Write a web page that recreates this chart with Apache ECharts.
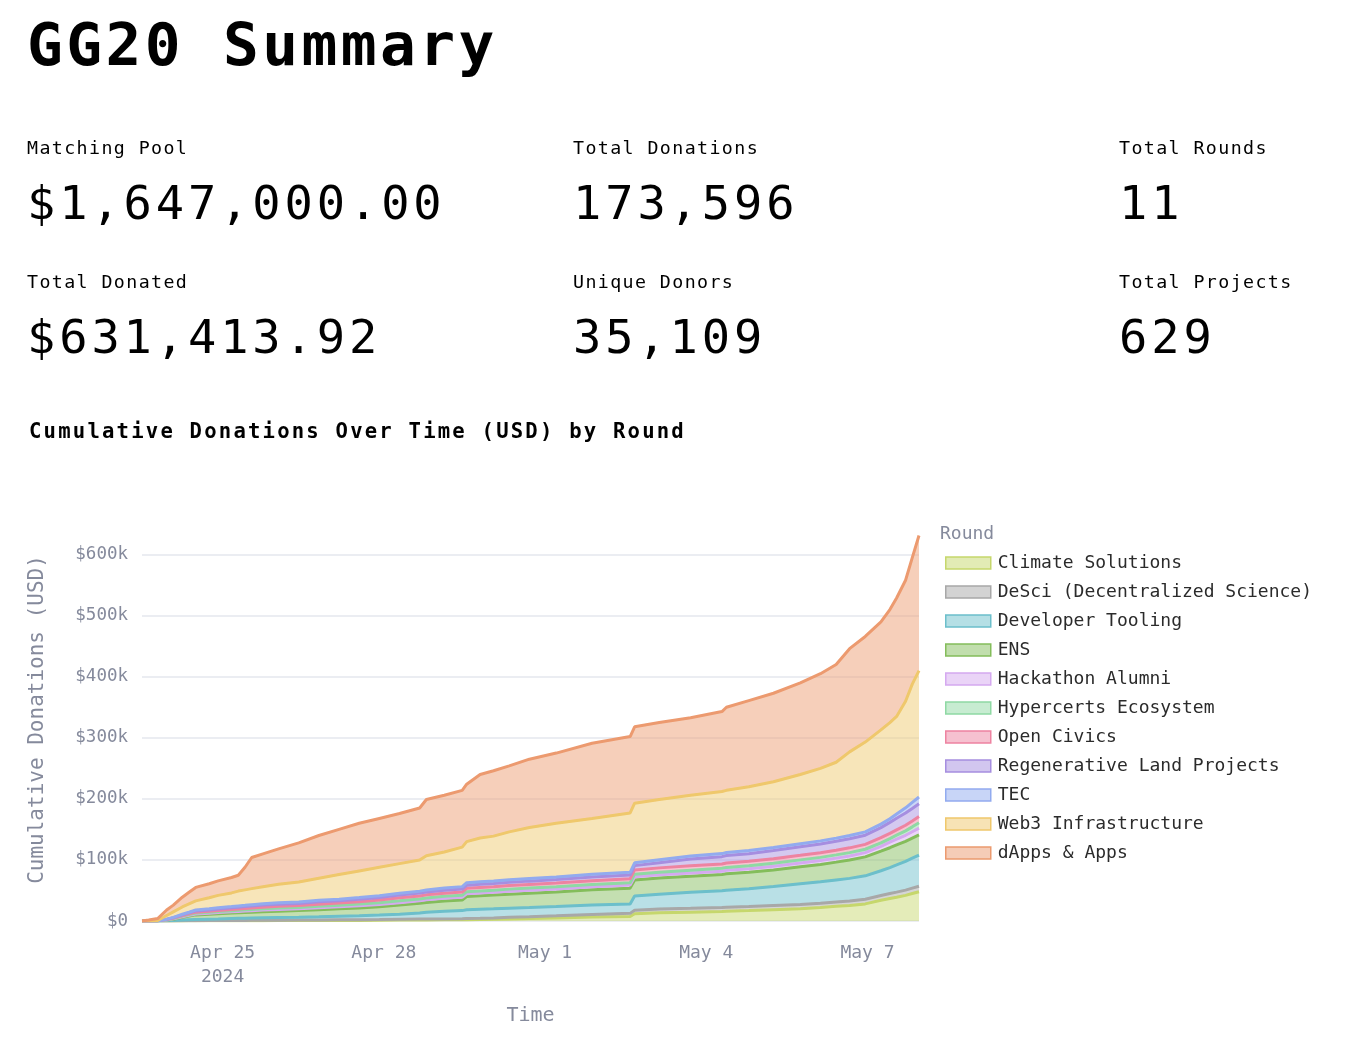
<!DOCTYPE html>
<html>
<head>
<meta charset="utf-8">
<title>GG20 Summary</title>
<script src="https://cdn.jsdelivr.net/npm/echarts@6/dist/echarts.min.js"></script>
<style>
    html, body { margin: 0; padding: 0; background: #fff; }
    body { width: 1349px; height: 1056px; position: relative; overflow: hidden; font-family: 'DejaVu Sans Mono', monospace; color: #000; }
    #charts { position: absolute; left: 0; top: 0; width: 1349px; height: 1056px; }
    .txt { position: absolute; white-space: nowrap; line-height: 1; z-index: 2; }
    .page-title { left: 27px; top: 15px; font-size: 59.5px; font-weight: bold; letter-spacing: 3.4px; }
    .stat-label { font-size: 18.3px; letter-spacing: 1.4px; }
    .stat-value { font-size: 47px; letter-spacing: 3.9px; }
    .chart-title { left: 29px; top: 421px; font-size: 20.6px; font-weight: bold; letter-spacing: 2.2px; }
</style>
</head>
<body>
<div id="charts"></div>

<div class="txt page-title">GG20 Summary</div>

<div class="txt stat-label" style="left:27px;top:139px;">Matching Pool</div>
<div class="txt stat-value" style="left:27px;top:179px;">$1,647,000.00</div>
<div class="txt stat-label" style="left:573px;top:139px;">Total Donations</div>
<div class="txt stat-value" style="left:573px;top:179px;">173,596</div>
<div class="txt stat-label" style="left:1119px;top:139px;">Total Rounds</div>
<div class="txt stat-value" style="left:1119px;top:179px;">11</div>

<div class="txt stat-label" style="left:27px;top:273px;">Total Donated</div>
<div class="txt stat-value" style="left:27px;top:313px;">$631,413.92</div>
<div class="txt stat-label" style="left:573px;top:273px;">Unique Donors</div>
<div class="txt stat-value" style="left:573px;top:313px;">35,109</div>
<div class="txt stat-label" style="left:1119px;top:273px;">Total Projects</div>
<div class="txt stat-value" style="left:1119px;top:313px;">629</div>

<div class="txt chart-title">Cumulative Donations Over Time (USD) by Round</div>

<script>
// sample times (UTC) and cumulative donations per round, in thousands of USD
var times = [
    '2024-04-23 12:00', '2024-04-23 15:00', '2024-04-23 19:00', '2024-04-23 23:00',
    '2024-04-24 02:00', '2024-04-24 06:00', '2024-04-24 09:00', '2024-04-24 12:00', '2024-04-24 18:00', '2024-04-24 22:00',
    '2024-04-25 04:00', '2024-04-25 07:00', '2024-04-25 10:00', '2024-04-25 13:00', '2024-04-25 18:00',
    '2024-04-26 01:00', '2024-04-26 10:00', '2024-04-26 19:00',
    '2024-04-27 04:00', '2024-04-27 13:00', '2024-04-27 22:00',
    '2024-04-28 07:00', '2024-04-28 16:00', '2024-04-28 19:00',
    '2024-04-29 03:00', '2024-04-29 11:00', '2024-04-29 13:00', '2024-04-29 19:00',
    '2024-04-30 01:00', '2024-04-30 08:00', '2024-04-30 17:00',
    '2024-05-01 05:00', '2024-05-01 21:00',
    '2024-05-02 14:00', '2024-05-02 16:00',
    '2024-05-03 03:00', '2024-05-03 17:00',
    '2024-05-04 07:00', '2024-05-04 09:00', '2024-05-04 19:00',
    '2024-05-05 06:00', '2024-05-05 18:00',
    '2024-05-06 03:00', '2024-05-06 10:00', '2024-05-06 16:00', '2024-05-06 23:00',
    '2024-05-07 06:00', '2024-05-07 10:00', '2024-05-07 13:00', '2024-05-07 17:00', '2024-05-07 20:00', '2024-05-07 23:00'
];

var climateSolutions = [0, 0, 0, 0.05, 0.1, 0.2, 0.25, 0.3, 0.35, 0.4,
    0.45, 0.5, 0.5, 0.55, 0.6, 0.65, 0.7, 0.8, 0.9, 1.0,
    1.2, 1.5, 1.7, 1.8, 1.9, 2.0, 2.2, 2.5, 2.8, 3.3,
    4.0, 5.0, 6.5, 7.5, 12, 13.5, 14.5, 15.5, 16, 17,
    18.5, 20, 22, 24, 25.5, 28, 34, 37, 39, 42,
    45, 48];
var desci = [0, 0, 0, 0.05, 0.1, 0.2, 0.25, 0.3, 0.35, 0.4,
    0.45, 0.5, 0.5, 0.55, 0.6, 0.7, 0.8, 0.9, 1.0, 1.1,
    1.2, 1.3, 1.4, 1.4, 1.5, 1.5, 1.8, 2.0, 2.3, 2.7,
    3.0, 3.5, 4.3, 5.0, 5.7, 6.0, 6.2, 6.5, 6.7, 6.8,
    6.9, 7.0, 7.1, 7.2, 7.3, 7.5, 7.8, 8.0, 8.3, 8.6,
    8.8, 9.0];
var developerTooling = [0, 0, 0.1, 0.4, 0.8, 1.4, 1.7, 1.9, 2.3, 2.5,
    3.1, 3.3, 3.5, 3.7, 4.0, 4.3, 4.7, 5.3, 6.0, 6.5,
    7.3, 8.2, 10.0, 11.0, 12.5, 13.5, 14.5, 14.7, 14.8, 14.9,
    15.0, 15.1, 15.3, 15.5, 23.3, 24.5, 26.2, 27.5, 27.8, 29.0,
    31, 34, 35, 36, 37, 38.5, 40.5, 42.5, 44.5, 47,
    49, 51];
var ens = [0, 0, 0.1, 1.0, 2.0, 4.2, 5.8, 7.5, 8.0, 8.7,
    9.0, 9.2, 9.5, 9.7, 10.1, 10.5, 10.8, 11.5, 12.0, 12.8,
    13.7, 15.0, 15.8, 16.2, 17.0, 17.5, 21.5, 22.0, 22.5, 23.0,
    23.5, 24.0, 25.0, 25.8, 26.2, 26.3, 26.4, 26.5, 26.8, 27.0,
    27.3, 27.8, 28.5, 29.2, 30.0, 31.0, 32.0, 32.5, 32.7, 32.8,
    32.9, 33.0];
var hackathonAlumni = [0, 0, 0.05, 0.3, 0.6, 1.0, 1.3, 1.5, 1.7, 1.9,
    2.1, 2.2, 2.3, 2.4, 2.6, 2.8, 3.0, 3.2, 3.3, 3.5,
    3.7, 4.0, 4.1, 4.2, 4.3, 4.4, 4.5, 4.6, 4.6, 4.7,
    4.8, 4.9, 5.0, 5.1, 5.3, 5.4, 5.5, 5.6, 5.7, 5.8,
    6.0, 6.2, 6.4, 6.6, 6.8, 7.0, 8.0, 9.0, 9.5, 10.0,
    10.5, 11.0];
var hypercerts = [0, 0, 0.05, 0.3, 0.6, 1.0, 1.3, 1.5, 1.6, 1.7,
    1.8, 1.9, 2.0, 2.1, 2.2, 2.3, 2.3, 2.5, 2.6, 2.8,
    2.9, 3.0, 3.1, 3.1, 3.2, 3.2, 3.5, 3.5, 3.5, 3.6,
    3.6, 3.7, 3.7, 3.8, 4.2, 4.3, 4.5, 4.7, 4.8, 4.9,
    5.0, 5.1, 5.2, 5.3, 5.4, 5.5, 5.8, 6.0, 6.5, 7.2,
    8.0, 9.0];
var openCivics = [0, 0, 0.05, 0.3, 0.6, 1.0, 1.3, 1.5, 1.6, 1.7,
    2.0, 2.1, 2.3, 2.4, 2.6, 2.8, 2.9, 3.2, 3.5, 3.8,
    4.3, 5.0, 5.0, 5.1, 5.1, 5.2, 5.5, 5.6, 5.7, 5.8,
    5.9, 6.0, 6.3, 6.5, 7.0, 7.0, 7.0, 7.1, 7.2, 7.3,
    7.4, 7.5, 7.6, 7.7, 7.8, 8.0, 8.3, 8.5, 8.8, 9.2,
    9.6, 10.0];
var regenerativeLand = [0, 0, 0.05, 0.3, 0.6, 1.0, 1.5, 2.0, 2.3, 2.5,
    2.7, 3.0, 3.0, 3.2, 3.4, 3.5, 3.6, 4.0, 4.0, 4.1,
    4.3, 4.5, 4.6, 4.7, 4.8, 5.0, 5.0, 5.1, 5.2, 5.3,
    5.5, 5.6, 5.8, 6.0, 7.0, 8.5, 11.3, 12.0, 12.2, 12.5,
    13.3, 14.0, 14.3, 14.5, 14.8, 15.0, 16.5, 18.0, 19.0, 20.0,
    20.5, 21.0];
var tec = [0, 0, 0.1, 0.3, 0.6, 1.0, 1.0, 1.5, 1.7, 2.0,
    2.0, 2.0, 2.0, 2.0, 2.1, 2.2, 2.2, 2.5, 2.5, 2.7,
    2.8, 3.0, 3.2, 3.3, 3.6, 4.0, 4.2, 4.2, 4.3, 4.3,
    4.4, 4.4, 4.5, 4.5, 4.6, 4.7, 4.8, 5.0, 5.0, 5.0,
    5.0, 5.0, 5.1, 5.2, 5.3, 5.5, 5.8, 6.0, 7.0, 8.5,
    10.0, 11.0];
var web3Infrastructure = [0, 0, 0.5, 6, 9, 12, 13.6, 15, 18.1, 20.2,
    22.4, 24.3, 25.4, 26.4, 27.8, 30.3, 33, 36.1, 40.2, 43.7,
    46.6, 48.5, 51.1, 56.2, 59.1, 64.7, 67.3, 71.8, 73.3, 78.4,
    83.3, 87.8, 91.6, 97.3, 97.7, 98.8, 99.6, 101.6, 101.8, 104.7,
    107.6, 113.4, 118.8, 124.3, 137.1, 147, 154.3, 157.5, 159.7, 174.7,
    193.7, 207];
var dappsApps = [0, 1.5, 3, 9, 11, 16, 19, 22, 23, 23.7,
    25.3, 26, 37, 51, 54, 58, 64, 70, 74, 78,
    80, 82, 85, 92, 93, 93, 94, 104, 107, 108,
    112, 115, 123, 125, 125, 126, 127, 131, 136, 141,
    145, 150, 155, 160, 169, 173, 177, 185, 194, 198,
    207, 221.4];

var roundNames = ['Climate Solutions', 'DeSci (Decentralized Science)', 'Developer Tooling', 'ENS',
    'Hackathon Alumni', 'Hypercerts Ecosystem', 'Open Civics', 'Regenerative Land Projects',
    'TEC', 'Web3 Infrastructure', 'dApps & Apps'];
var roundValues = [climateSolutions, desci, developerTooling, ens, hackathonAlumni, hypercerts,
    openCivics, regenerativeLand, tec, web3Infrastructure, dappsApps];

var xTickDates = ['2024-04-25 00:00', '2024-04-28 00:00', '2024-05-01 00:00', '2024-05-04 00:00', '2024-05-07 00:00'];
var yTickValues = [0, 100, 200, 300, 400, 500, 600];

var lineColors = ['#c6d76c', '#a8a8a8', '#6cbfcb', '#84bd5b', '#d5a9f0', '#8fd9a4',
    '#ee83a1', '#a68ee0', '#92abef', '#efc86c', '#ec9a6f'];

function toTime(s) {
    return new Date(s.replace(' ', 'T') + ':00Z').getTime();
}

function fade(hex, a) {
    var r = parseInt(hex.substr(1, 2), 16), g = parseInt(hex.substr(3, 2), 16), b = parseInt(hex.substr(5, 2), 16);
    return 'rgba(' + r + ',' + g + ',' + b + ',' + a + ')';
}

function initLineChart() {
    var myChart = echarts.init(document.getElementById('charts'));
    var axisGray = '#858a9c';
    var font = 'DejaVu Sans Mono';
    var ts = times.map(toTime);
    var ticks = xTickDates.map(toTime);
    var months = ['Jan', 'Feb', 'Mar', 'Apr', 'May', 'Jun', 'Jul', 'Aug', 'Sep', 'Oct', 'Nov', 'Dec'];

    var option = {
        animation: false,
        textStyle: { fontFamily: font },
        title: {
            text: 'Round',
            left: 935,
            top: 520,
            textStyle: { fontSize: 18, fontWeight: 'normal', color: axisGray, fontFamily: font }
        },
        legend: {
            orient: 'vertical',
            left: 940,
            top: 549,
            icon: 'rect',
            itemWidth: 45,
            itemHeight: 12,
            itemGap: 11,
            textStyle: { fontSize: 18, lineHeight: 18, color: '#2b2b2b', fontFamily: font, padding: [0, 0, 0, 2] },
            data: roundNames.map(function (name, i) {
                return {
                    name: name,
                    itemStyle: { color: fade(lineColors[i], 0.5), borderColor: lineColors[i], borderWidth: 1.5 }
                };
            })
        },
        grid: {
            left: 142,
            right: 430,
            top: 518,
            bottom: 135,
            outerBoundsMode: 'none'
        },
        xAxis: [
            {
                // the series sit on this time axis (stacking needs a time x dimension)
                type: 'time',
                position: 'bottom',
                min: ts[0],
                max: ts[ts.length - 1],
                axisLine: { show: false },
                axisTick: { show: false },
                axisLabel: { show: false },
                splitLine: { show: false }
            },
            {
                // same range as a value axis, only for the date labels
                type: 'value',
                position: 'bottom',
                min: ts[0],
                max: ts[ts.length - 1],
                name: 'Time',
                nameLocation: 'middle',
                nameGap: 85,
                nameTextStyle: { fontSize: 20, color: axisGray, fontFamily: font },
                axisLine: { show: false },
                axisTick: { show: false },
                splitLine: { show: false },
                axisLabel: {
                    customValues: ticks,
                    color: axisGray,
                    fontSize: 18,
                    lineHeight: 24,
                    margin: 20,
                    fontFamily: font,
                    formatter: function (value) {
                        var d = new Date(value);
                        var s = months[d.getUTCMonth()] + ' ' + d.getUTCDate();
                        if (value === ticks[0]) {
                            s += '\n' + d.getUTCFullYear();
                        }
                        return s;
                    }
                }
            }
        ],
        yAxis: {
            type: 'value',
            min: 0,
            max: 660,
            interval: 100,
            name: 'Cumulative Donations (USD)',
            nameLocation: 'middle',
            nameGap: 94,
            nameTextStyle: { fontSize: 21, color: axisGray, fontFamily: font },
            axisLine: { show: false },
            axisTick: { show: false },
            axisLabel: {
                customValues: yTickValues,
                color: axisGray,
                fontSize: 17.5,
                margin: 14,
                fontFamily: font,
                formatter: function (v) {
                    return v === 0 ? '$0' : '$' + v + 'k';
                }
            },
            splitLine: {
                showMaxLine: false,
                lineStyle: { color: '#e5e7ee', width: 1.5 }
            }
        },
        series: roundNames.map(function (name, i) {
            return {
                name: name,
                type: 'line',
                xAxisIndex: 0,
                stack: 'rounds',
                symbol: 'none',
                showSymbol: false,
                lineStyle: { width: 3, color: lineColors[i] },
                itemStyle: { color: lineColors[i] },
                areaStyle: { color: lineColors[i], opacity: 0.48 },
                emphasis: { disabled: true },
                data: ts.map(function (t, k) {
                    return [t, roundValues[i][k]];
                })
            };
        })
    };
    myChart.setOption(option);
}
initLineChart();
</script>
</body>
</html>
